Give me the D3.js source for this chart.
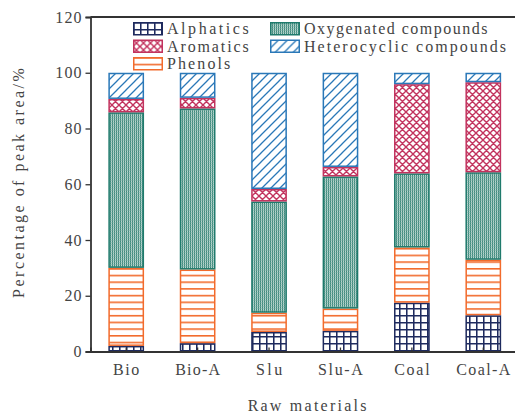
<!DOCTYPE html>
<html><head><meta charset="utf-8">
<script src="https://cdn.jsdelivr.net/npm/d3@7/dist/d3.min.js"></script>
<style>body{margin:0;background:#fff}svg{display:block}</style>
</head><body>
<script>
const categories = ["Bio","Bio-A","Slu","Slu-A","Coal","Coal-A"];
const seriesNames = ["Alphatics","Phenols","Oxygenated compounds","Aromatics","Heterocyclic compounds"];
const alphatics = [2.0, 3.0, 7.0, 7.4, 17.5, 13.0];
const phenols = [28.0, 26.4, 6.9, 8.0, 19.8, 19.9];
const oxygenated = [55.8, 57.8, 39.9, 47.4, 26.6, 31.4];
const aromatics = [4.8, 3.8, 4.5, 3.4, 32.0, 32.3];
const heterocyclic = [9.4, 9.0, 41.7, 33.8, 4.1, 3.4];
const yTicks = [0,20,40,60,80,100,120];

const W=515,H=415;
const svg=d3.select("body").append("svg").attr("width",W).attr("height",H);
const font="'Liberation Serif', serif";
const fs=16, charW=9.25, txtCol="#444";
const mLeft=90.5, mRight=519, mTop=17, mBottom=351.5;
const x=d3.scaleBand().domain(categories).range([mLeft,mRight]).paddingInner(0.5).paddingOuter(0.25);
const y=d3.scaleLinear().domain([0,120]).range([mBottom,mTop]);

const defs=svg.append("defs");
const colors={"Alphatics":"#1e2a5e","Phenols":"#f26b2c","Oxygenated compounds":"#1f7a6c","Aromatics":"#c2335e","Heterocyclic compounds":"#2a78b8"};
let p=defs.append("pattern").attr("id","p0").attr("patternUnits","userSpaceOnUse").attr("width",7).attr("height",7);
p.append("rect").attr("width",7).attr("height",7).attr("fill","#fff");
p.append("path").attr("d","M0,0.75H7M0.75,0V7").attr("stroke",colors["Alphatics"]).attr("stroke-width",1.6);
p=defs.append("pattern").attr("id","p1").attr("patternUnits","userSpaceOnUse").attr("width",8).attr("height",6.7);
p.append("rect").attr("width",8).attr("height",6.7).attr("fill","#fff");
p.append("path").attr("d","M0,0.8H8").attr("stroke",colors["Phenols"]).attr("stroke-width",1.6);
p=defs.append("pattern").attr("id","p2").attr("patternUnits","userSpaceOnUse").attr("width",2).attr("height",2);
p.append("rect").attr("width",2).attr("height",2).attr("fill","#b8d6cf");
p.append("rect").attr("width",1).attr("height",2).attr("fill","#3f8a7d");
p.append("rect").attr("width",2).attr("height",0.5).attr("fill","#78aea4");
p=defs.append("pattern").attr("id","p3").attr("patternUnits","userSpaceOnUse").attr("width",7).attr("height",7);
p.append("rect").attr("width",7).attr("height",7).attr("fill","#fff");
p.append("path").attr("d","M-1,-1L8,8M-1,8L8,-1M-4.5,2.5L2.5,9.5M4.5,-2.5L11.5,4.5M2.5,-2.5L-4.5,4.5M11.5,2.5L4.5,9.5").attr("stroke",colors["Aromatics"]).attr("stroke-width",1.4);
p=defs.append("pattern").attr("id","p4").attr("patternUnits","userSpaceOnUse").attr("width",9).attr("height",9);
p.append("rect").attr("width",9).attr("height",9).attr("fill","#fff");
p.append("path").attr("d","M-1,10L10,-1M-5.5,5.5L5.5,-5.5M3.5,14.5L14.5,3.5").attr("stroke",colors["Heterocyclic compounds"]).attr("stroke-width",1.3);

const seriesData=[alphatics,phenols,oxygenated,aromatics,heterocyclic];
const rows=categories.map((c,i)=>{const o={cat:c};seriesNames.forEach((s,j)=>o[s]=seriesData[j][i]);return o;});
const stack=d3.stack().keys(seriesNames)(rows);

stack.forEach((layer,j)=>{
  svg.append("g").selectAll("rect").data(layer).join("rect")
   .attr("x",d=>x(d.data.cat)+0.75).attr("width",x.bandwidth()-1.5)
   .attr("y",d=>y(d[1])+0.75).attr("height",d=>Math.max(0,y(d[0])-y(d[1])-1.5))
   .attr("fill",`url(#p${j})`).attr("stroke",colors[seriesNames[j]]).attr("stroke-width",1.5);
});

function styleText(s){
  s.attr("font-family",font).attr("font-size",fs).attr("fill",txtCol)
   .attr("lengthAdjust","spacing")
   .attr("textLength",function(){return this.textContent.length*charW-1.5;});
  return s;
}
const yAxis=svg.append("g").attr("transform",`translate(${mLeft},0)`)
 .call(d3.axisLeft(y).tickValues(yTicks).tickSize(5).tickPadding(4));
const xAxis=svg.append("g").attr("transform",`translate(0,${mBottom})`)
 .call(d3.axisBottom(x).tickSize(-4).tickPadding(10));
[yAxis,xAxis].forEach(a=>{a.select(".domain").attr("stroke","#333").attr("stroke-width",1.8);
 a.selectAll(".tick line").attr("stroke","#333").attr("stroke-width",1.3);
 styleText(a.selectAll("text"));});
xAxis.selectAll(".tick text").attr("dy","0.85em");
svg.append("line").attr("x1",mLeft).attr("x2",mRight).attr("y1",mTop).attr("y2",mTop).attr("stroke","#333").attr("stroke-width",1.8);
svg.append("line").attr("x1",mRight).attr("x2",mRight).attr("y1",mTop).attr("y2",mBottom).attr("stroke","#333").attr("stroke-width",1.8);

styleText(svg.append("text").attr("x",307).attr("y",411).attr("text-anchor","middle").text("Raw materials"));
styleText(svg.append("text").attr("transform","translate(24,183) rotate(-90)").attr("text-anchor","middle").text("Percentage of peak area/%"));

const legendItems=[
 {name:"Alphatics",pi:0,x:133,y:22},
 {name:"Aromatics",pi:3,x:133,y:39.5},
 {name:"Phenols",pi:1,x:133,y:57},
 {name:"Oxygenated compounds",pi:2,x:270,y:22},
 {name:"Heterocyclic compounds",pi:4,x:270,y:39.5}];
const lg=svg.append("g").selectAll("g").data(legendItems).join("g").attr("transform",d=>`translate(${d.x},${d.y})`);
lg.append("rect").attr("x",0.75).attr("y",0.75).attr("width",28.5).attr("height",12).attr("fill",d=>`url(#p${d.pi})`).attr("stroke",d=>colors[d.name]).attr("stroke-width",1.5);
styleText(lg.append("text").attr("x",34).attr("y",6.5).attr("dy","0.35em").text(d=>d.name));
</script>
</body></html>
